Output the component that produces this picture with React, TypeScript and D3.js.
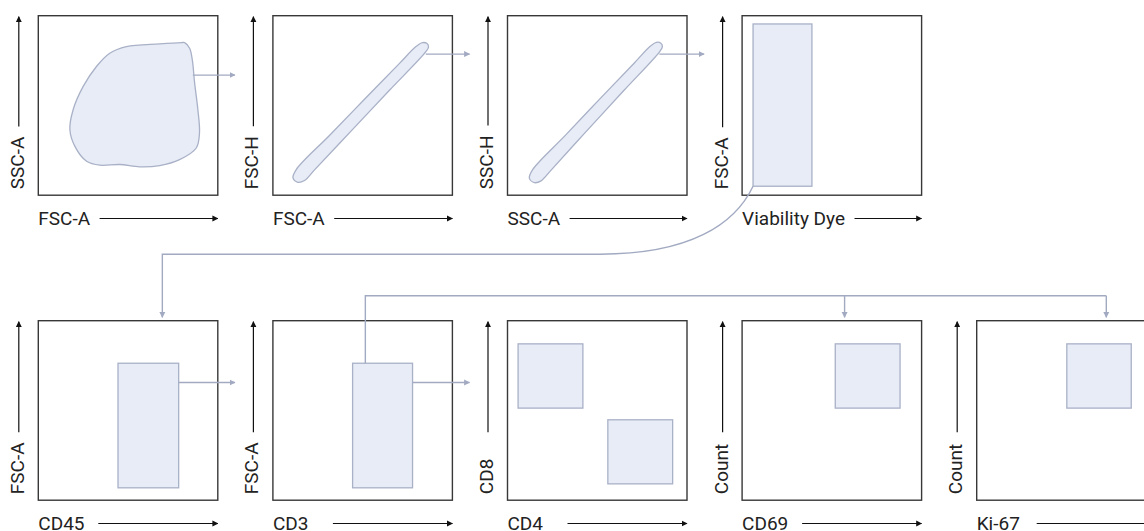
import * as d3 from 'd3';
import { useEffect, useRef } from 'react';

const W = 1144;
const H = 531;

const X_LABELS = ['FSC-A', 'FSC-A', 'SSC-A', 'Viability Dye', 'CD45', 'CD3', 'CD4', 'CD69', 'Ki-67'];
const Y_LABELS = ['SSC-A', 'FSC-H', 'SSC-H', 'FSC-A', 'FSC-A', 'FSC-A', 'CD8', 'Count', 'Count'];
const PANEL_ROW = [0, 0, 0, 0, 1, 1, 1, 1, 1];
const PANEL_COL = [0, 1, 2, 3, 0, 1, 2, 3, 4];

// gate outlines in each plot's own 0–100 units (y grows upward)
const CELLS_GATE = [
    [79.7, 85], [67.6, 84.3], [49.1, 82.8], [39.8, 79.1], [32.4, 71.7], [25, 60.6],
    [19.4, 47.6], [17.6, 36.5], [20.4, 27.2], [26.9, 18.9], [34.3, 16.7], [45.4, 17.1],
    [56.5, 15.8], [67.6, 16.5], [78.7, 19.8], [88, 26.3], [89.8, 34.7], [88.9, 47.6],
    [87.1, 62.4], [85.8, 75.4], [84.3, 81.9], [81.5, 85],
];
const FSC_SINGLETS = [
    [83.3, 85], [85.7, 84.6], [86.7, 82.6], [85.1, 79.8], [64.8, 58.3], [42.6, 34.7],
    [23.2, 14.1], [17.6, 8.2], [13.9, 7.2], [11.2, 9.6], [13, 14.3], [31.5, 33.3],
    [50.9, 53.3], [70.4, 73.3], [79.7, 82.8],
];
const SSC_SINGLETS = [
    [83, 85.2], [85.3, 84.8], [86.3, 82.8], [84.8, 80], [64.8, 58.3], [43, 34.6],
    [24.3, 14], [18.7, 8], [15, 7], [12.2, 9.4], [14, 14.2], [32.2, 33.3],
    [51.2, 53.4], [70.4, 73.4], [79.5, 83],
];
const SHAPE_GATES = [
    { panel: 0, pts: CELLS_GATE },
    { panel: 1, pts: FSC_SINGLETS },
    { panel: 2, pts: SSC_SINGLETS },
];

// rectangle gates: panel, x0, x1, y0, y1
const RECT_GATES = [
    [3, 6.1, 38.9, 5, 95.4],
    [4, 44.4, 78.2, 6.9, 76.3],
    [5, 44.4, 77.8, 6.9, 76.3],
    [6, 5.9, 42, 51.3, 87.1],
    [6, 55.9, 92, 9.1, 44.8],
    [7, 51.9, 88, 51.3, 87.1],
    [8, 50.2, 86.1, 51.3, 87.1],
];

// gate -> next plot to the right: panel, x, y
const NEXT_LINKS = [
    [0, 86.1, 66.9],
    [1, 85.2, 78.6],
    [2, 84.6, 78.6],
    [4, 78.2, 65.6],
    [5, 77.8, 65.6],
];
// live cells (panel 3 gate corner) -> CD45 plot
const ROW_LINK = { from: 3, fx: 6.1, fy: 5, to: 4, tx: 69.1 };
// CD3+ gate top -> CD69 and Ki-67 plots
const BRANCH_LINK = { from: 5, fx: 51.5, fy: 76.3, to: [7, 8], tx: [57.1, 72.2] };

const LEFT0 = 38.3;
const STEP = 234.6;
const SIZE = 179.5;
const ROW_TOP = [15.7, 320.7];

const GATE_FILL = '#e8ecf7';
const GATE_STROKE = '#a9b1c7';
const LINK = '#a2aac2';
const FONT = 'Roboto, "Noto Sans", sans-serif';

export default function App() {
    const svgRef = useRef(null);

    useEffect(() => {
        const svg = d3.select(svgRef.current);
        svg.selectAll('*').remove();

        const defs = svg.append('defs');
        const marker = (id, color, mw, mh) =>
            defs
                .append('marker')
                .attr('id', id)
                .attr('viewBox', '0 0 10 10')
                .attr('refX', 9)
                .attr('refY', 5)
                .attr('markerWidth', mw)
                .attr('markerHeight', mh)
                .attr('markerUnits', 'userSpaceOnUse')
                .attr('orient', 'auto')
                .append('path')
                .attr('d', 'M0,0L10,5L0,10Z')
                .attr('fill', color);
        marker('ah-axis', '#111', 6, 6.5);
        marker('ah-link', LINK, 6, 7);

        const panels = X_LABELS.map((xl, i) => {
            const left = LEFT0 + PANEL_COL[i] * STEP;
            const top = ROW_TOP[PANEL_ROW[i]];
            return {
                left,
                top,
                right: left + SIZE,
                bottom: top + SIZE,
                x: d3.scaleLinear().domain([0, 100]).range([left, left + SIZE]),
                y: d3.scaleLinear().domain([0, 100]).range([top + SIZE, top]),
            };
        });

        // plot frames + axis labels
        panels.forEach((p, i) => {
            svg.append('rect')
                .attr('x', p.left)
                .attr('y', p.top)
                .attr('width', SIZE)
                .attr('height', SIZE)
                .attr('fill', '#fff')
                .attr('stroke', '#383838')
                .attr('stroke-width', 1.4);

            const xt = svg
                .append('text')
                .attr('x', p.left)
                .attr('y', p.bottom + 30)
                .attr('font-family', FONT)
                .attr('font-size', 19)
                .attr('fill', '#222')
                .text(X_LABELS[i]);
            const xw = xt.node().getComputedTextLength();
            const xStart = Math.max(p.left + 60, p.left + xw + 9.5);
            svg.append('line')
                .attr('x1', xStart)
                .attr('x2', p.right)
                .attr('y1', p.bottom + 23.3)
                .attr('y2', p.bottom + 23.3)
                .attr('stroke', '#111')
                .attr('stroke-width', 1.2)
                .attr('marker-end', 'url(#ah-axis)');

            const yt = svg
                .append('text')
                .attr('transform', `translate(${p.left - 14.5},${p.bottom - 6}) rotate(-90)`)
                .attr('font-family', FONT)
                .attr('font-size', 19)
                .attr('fill', '#222')
                .text(Y_LABELS[i]);
            const yw = yt.node().getComputedTextLength();
            const yEnd = Math.min(p.bottom - 68, p.bottom - 6 - yw - 10);
            svg.append('line')
                .attr('x1', p.left - 19.5)
                .attr('x2', p.left - 19.5)
                .attr('y1', yEnd)
                .attr('y2', p.top + 1)
                .attr('stroke', '#111')
                .attr('stroke-width', 1.2)
                .attr('marker-end', 'url(#ah-axis)');
        });

        // free-form gates
        SHAPE_GATES.forEach((g) => {
            const p = panels[g.panel];
            const line = d3
                .line()
                .x((d) => p.x(d[0]))
                .y((d) => p.y(d[1]))
                .curve(d3.curveCatmullRomClosed.alpha(0.5));
            svg.append('path')
                .attr('d', line(g.pts))
                .attr('fill', GATE_FILL)
                .attr('stroke', GATE_STROKE)
                .attr('stroke-width', 1.3);
        });

        RECT_GATES.forEach(([pi, x0, x1, y0, y1]) => {
            const p = panels[pi];
            svg.append('rect')
                .attr('x', p.x(x0))
                .attr('y', p.y(y1))
                .attr('width', p.x(x1) - p.x(x0))
                .attr('height', p.y(y0) - p.y(y1))
                .attr('fill', GATE_FILL)
                .attr('stroke', GATE_STROKE)
                .attr('stroke-width', 1.3);
        });

        const linkPath = (d) =>
            svg.append('path')
                .attr('d', d)
                .attr('fill', 'none')
                .attr('stroke', LINK)
                .attr('stroke-width', 1.4);

        NEXT_LINKS.forEach(([pi, gx, gy]) => {
            const p = panels[pi];
            const next = panels[pi + 1];
            linkPath(`M${p.x(gx)},${p.y(gy)}H${next.left - 38}`).attr('marker-end', 'url(#ah-link)');
        });

        {
            const p = panels[ROW_LINK.from];
            const q = panels[ROW_LINK.to];
            const x0 = p.x(ROW_LINK.fx);
            const y0 = p.y(ROW_LINK.fy);
            const yL = panels[0].bottom + 59;
            const xd = q.x(ROW_LINK.tx);
            const path = d3.path();
            path.moveTo(x0, y0);
            path.bezierCurveTo(x0 - 18, y0 + 38, x0 - 63, yL, x0 - 153, yL);
            path.lineTo(xd, yL);
            path.lineTo(xd, q.top - 3.4);
            linkPath(path.toString()).attr('marker-end', 'url(#ah-link)');
        }

        {
            const p = panels[BRANCH_LINK.from];
            const x0 = p.x(BRANCH_LINK.fx);
            const yB = p.top - 25;
            const targets = BRANCH_LINK.to.map((ti, k) => ({ q: panels[ti], x: panels[ti].x(BRANCH_LINK.tx[k]) }));
            const last = targets[targets.length - 1];
            linkPath(`M${x0},${p.y(BRANCH_LINK.fy)}V${yB}H${last.x}`);
            targets.forEach((t) => {
                linkPath(`M${t.x},${yB}V${t.q.top - 3.4}`).attr('marker-end', 'url(#ah-link)');
            });
        }
    }, []);

    return (
        <svg
            ref={svgRef}
            width={W}
            height={H}
            style={{ position: 'absolute', left: 0, top: 0, display: 'block', overflow: 'hidden', background: '#fff' }}
        />
    );
}
